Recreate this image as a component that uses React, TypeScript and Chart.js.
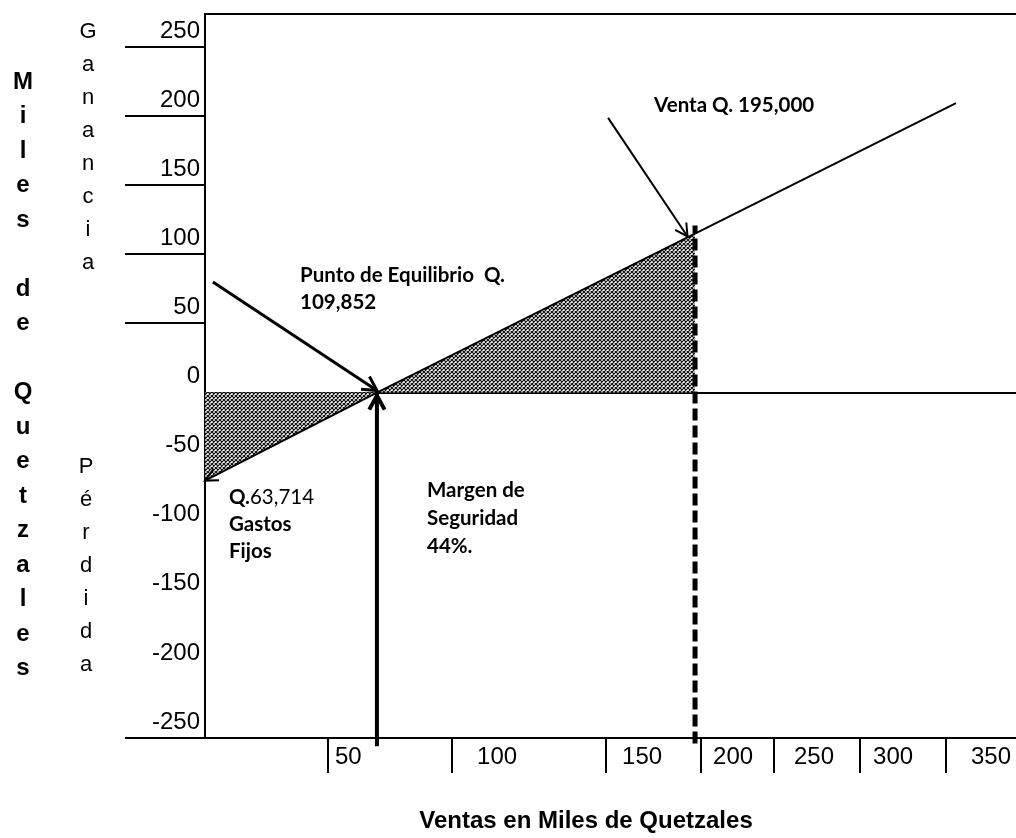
import React, { useEffect, useRef } from "react";
import { Chart, registerables } from "chart.js";

Chart.register(...registerables);

// ---- data ----
const yTickValues = [-250, -200, -150, -100, -50, 0, 50, 100, 150, 200, 250];
const yTickLabels = ["-250", "-200", "-150", "-100", "-50", "0", "50", "100", "150", "200", "250"];
// x axis of the sketch is not to scale: positions of tick marks and labels along the axis
const xTickPositions = [60.7, 121.8, 197.8, 244.6, 280.6, 323.1, 365.5];
const xLabelPositions = [64.1, 134.2, 205.7, 250.6, 290.5, 329.5, 377.8];
const xTickLabels = ["50", "100", "150", "200", "250", "300", "350"];

const profitX = [0, 84.8, 370.4];
const profitY = [-63.714, 0, 209.5];
const shadedX = [0, 84.8, 241.7];
const shadedY = [-63.714, 0, 115.1];
const breakEvenX = [84.8, 84.8];
const breakEvenY = [-256, 0];
const salesX = [241.7, 241.7];
const salesY = [-254, 121];

const yTitleOuter = "Miles de Quetzales";
const yTitleGain = "Ganancia";
const yTitleLoss = "Pérdida";
const xTitle = "Ventas en Miles de Quetzales";
const labelBreakEven = ["Punto de Equilibrio  Q.", "109,852"];
const labelSales = "Venta Q. 195,000";
const labelFixedQ = "Q.";
const labelFixedValue = "63,714";
const labelFixedRest = ["Gastos", "Fijos"];
const labelMargin = ["Margen de", "Seguridad", "44%."];

const SANS = "'Liberation Sans', Arial, sans-serif";
const NOTE = "Lato, 'Open Sans', sans-serif";

function makePattern(): CanvasPattern | string {
  const s = 4;
  const c = document.createElement("canvas");
  c.width = s;
  c.height = s;
  const g = c.getContext("2d");
  if (!g) return "#777";
  g.fillStyle = "#fff";
  g.fillRect(0, 0, s, s);
  g.strokeStyle = "#111";
  g.lineWidth = 1.2;
  g.beginPath();
  g.moveTo(0, 0);
  g.lineTo(s, s);
  g.moveTo(s, 0);
  g.lineTo(0, s);
  g.stroke();
  return g.createPattern(c, "repeat") || "#777";
}

function head(ctx: CanvasRenderingContext2D, x0: number, y0: number, x1: number, y1: number, len: number, spread: number) {
  const a = Math.atan2(y1 - y0, x1 - x0);
  ctx.beginPath();
  ctx.moveTo(x1 - len * Math.cos(a - spread), y1 - len * Math.sin(a - spread));
  ctx.lineTo(x1, y1);
  ctx.lineTo(x1 - len * Math.cos(a + spread), y1 - len * Math.sin(a + spread));
  ctx.stroke();
}

const annotPlugin = {
  id: "annot",
  afterDatasetsDraw(chart: any) {
    const ctx: CanvasRenderingContext2D = chart.ctx;
    const xs = chart.scales.x;
    const ys = chart.scales.y;
    const px = (u: number) => xs.getPixelForValue(u);
    const py = (v: number) => ys.getPixelForValue(v);
    ctx.save();
    ctx.strokeStyle = "#000";
    ctx.fillStyle = "#000";
    ctx.lineCap = "butt";

    // arrowhead at the left end of the profit line
    ctx.lineWidth = 2;
    head(ctx, px(profitX[1]), py(profitY[1]), px(profitX[0]), py(profitY[0]), 14, 0.45);

    // arrow up to the break-even point
    ctx.lineWidth = 4;
    head(ctx, px(breakEvenX[0]), py(breakEvenY[0]), px(breakEvenX[1]), py(breakEvenY[1]) + 3, 16, 0.5);

    // "Punto de Equilibrio" arrow
    ctx.lineWidth = 3;
    const p0x = px(3.9), p0y = py(80), p1x = px(profitX[1]), p1y = py(profitY[1]) - 2;
    ctx.beginPath();
    ctx.moveTo(p0x, p0y);
    ctx.lineTo(p1x, p1y);
    ctx.stroke();
    head(ctx, p0x, p0y, p1x, p1y, 16, 0.5);

    // "Venta" arrow
    ctx.lineWidth = 2;
    const v0x = px(198.8), v0y = py(198.8), v1x = px(238), v1y = py(113);
    ctx.beginPath();
    ctx.moveTo(v0x, v0y);
    ctx.lineTo(v1x, v1y);
    ctx.stroke();
    head(ctx, v0x, v0y, v1x, v1y, 14, 0.5);

    // notes
    ctx.textBaseline = "middle";
    ctx.textAlign = "left";
    ctx.font = `bold 20.5px ${NOTE}`;
    ctx.fillText(labelBreakEven[0], px(46.9), py(85));
    ctx.fillText(labelBreakEven[1], px(46.9), py(65));
    ctx.fillText(labelSales, px(221.5), py(208));
    const fx = px(11.8);
    ctx.fillText(labelFixedQ, fx, py(-75.6));
    const qw = ctx.measureText(labelFixedQ).width;
    ctx.font = `20.5px ${NOTE}`;
    ctx.fillText(labelFixedValue, fx + qw, py(-75.6));
    ctx.font = `bold 20.5px ${NOTE}`;
    ctx.fillText(labelFixedRest[0], fx, py(-95.2));
    ctx.fillText(labelFixedRest[1], fx, py(-114.8));
    const mx = px(109.5);
    ctx.fillText(labelMargin[0], mx, py(-70.5));
    ctx.fillText(labelMargin[1], mx, py(-90.8));
    ctx.fillText(labelMargin[2], mx, py(-111));

    // stacked vertical axis titles
    ctx.textAlign = "center";
    ctx.font = `bold 24px ${SANS}`;
    yTitleOuter.split("").forEach((ch, i) => {
      if (ch !== " ") ctx.fillText(ch, 23, 82 + i * 34.5);
    });
    ctx.font = `22px ${SANS}`;
    yTitleGain.split("").forEach((ch, i) => ctx.fillText(ch, 88, 32 + i * 33));
    yTitleLoss.split("").forEach((ch, i) => ctx.fillText(ch, 86, 467 + i * 33));

    // x axis title
    ctx.font = `bold 24px ${SANS}`;
    ctx.fillText(xTitle, 586, 821);
    ctx.restore();
  },
};

export default function App() {
  const ref = useRef<HTMLCanvasElement | null>(null);
  useEffect(() => {
    document.body.style.margin = "0";
    document.body.style.overflow = "hidden";
    if (!ref.current) return;
    const pattern = makePattern();
    const pts = (xs: number[], ys: number[]) => xs.map((x, i) => ({ x, y: ys[i] }));
    const nTicks = xTickPositions.length;
    const chart = new Chart(ref.current, {
      type: "line",
      data: {
        datasets: [
          {
            data: pts(profitX, profitY),
            borderColor: "#000",
            borderWidth: 2,
            pointRadius: 0,
            fill: false,
            order: 0,
            xAxisID: "x",
            yAxisID: "y",
          } as any,
          {
            data: pts(breakEvenX, breakEvenY),
            borderColor: "#000",
            borderWidth: 4,
            pointRadius: 0,
            fill: false,
            clip: false,
            order: 1,
            xAxisID: "x",
            yAxisID: "y",
          },
          {
            data: pts(salesX, salesY),
            borderColor: "#000",
            borderWidth: 5,
            borderDash: [12, 5],
            pointRadius: 0,
            fill: false,
            clip: false,
            order: 1,
            xAxisID: "x",
            yAxisID: "y",
          },
          {
            data: pts(shadedX, shadedY),
            borderWidth: 0,
            borderColor: "rgba(0,0,0,0)",
            backgroundColor: pattern as any,
            pointRadius: 0,
            fill: "origin",
            order: 5,
            xAxisID: "x",
            yAxisID: "y",
          },
        ],
      },
      options: {
        animation: false,
        responsive: true,
        maintainAspectRatio: false,
        layout: { padding: 0 },
        plugins: { legend: { display: false }, tooltip: { enabled: false } },
        events: [],
        scales: {
          x: {
            type: "linear",
            position: "bottom",
            min: 0,
            max: 400,
            afterBuildTicks: (s: any) => {
              s.ticks = [
                ...xTickPositions.map((v) => ({ value: v })),
                ...xLabelPositions.map((v) => ({ value: v })),
              ];
            },
            afterFit: (s: any) => {
              s.height = 100;
            },
            grid: {
              drawOnChartArea: false,
              tickLength: 35,
              lineWidth: 2,
              tickWidth: 2,
              tickColor: (c: any) => (c.index < nTicks ? "#000" : "rgba(0,0,0,0)"),
            },
            border: { display: true, color: "#000", width: 2 },
            ticks: {
              autoSkip: false,
              maxRotation: 0,
              minRotation: 0,
              align: "start",
              padding: -30,
              color: "#000",
              font: { family: SANS, size: 24 },
              callback: (_v: any, i: number) => (i >= nTicks ? xTickLabels[i - nTicks] : ""),
            },
          },
          xTop: {
            type: "linear",
            position: "top",
            min: 0,
            max: 400,
            grid: { display: false },
            ticks: { display: false },
            border: { display: true, color: "#000", width: 2 },
            afterFit: (s: any) => {
              s.height = 14;
            },
          },
          y: {
            type: "linear",
            min: -250,
            max: 274,
            afterBuildTicks: (s: any) => {
              s.ticks = yTickValues.map((v) => ({ value: v }));
            },
            afterFit: (s: any) => {
              s.width = 205;
            },
            grid: {
              drawOnChartArea: true,
              color: (c: any) => (c.tick && c.tick.value === 0 ? "#000" : "rgba(0,0,0,0)"),
              lineWidth: 2,
              tickLength: 80,
              tickWidth: 2,
              tickColor: (c: any) =>
                c.tick && (c.tick.value > 0 || c.tick.value === -250) ? "#000" : "rgba(0,0,0,0)",
            },
            border: { display: true, color: "#000", width: 2 },
            ticks: {
              padding: -75,
              labelOffset: -16,
              color: "#000",
              font: { family: SANS, size: 24 },
              callback: (v: any, i: number) => yTickLabels[i],
            },
          },
        },
      },
      plugins: [annotPlugin],
    });
    return () => chart.destroy();
  }, []);
  return (
    <div style={{ width: 1016, height: 838, position: "relative", background: "#fff" }}>
      <canvas ref={ref} />
    </div>
  );
}
